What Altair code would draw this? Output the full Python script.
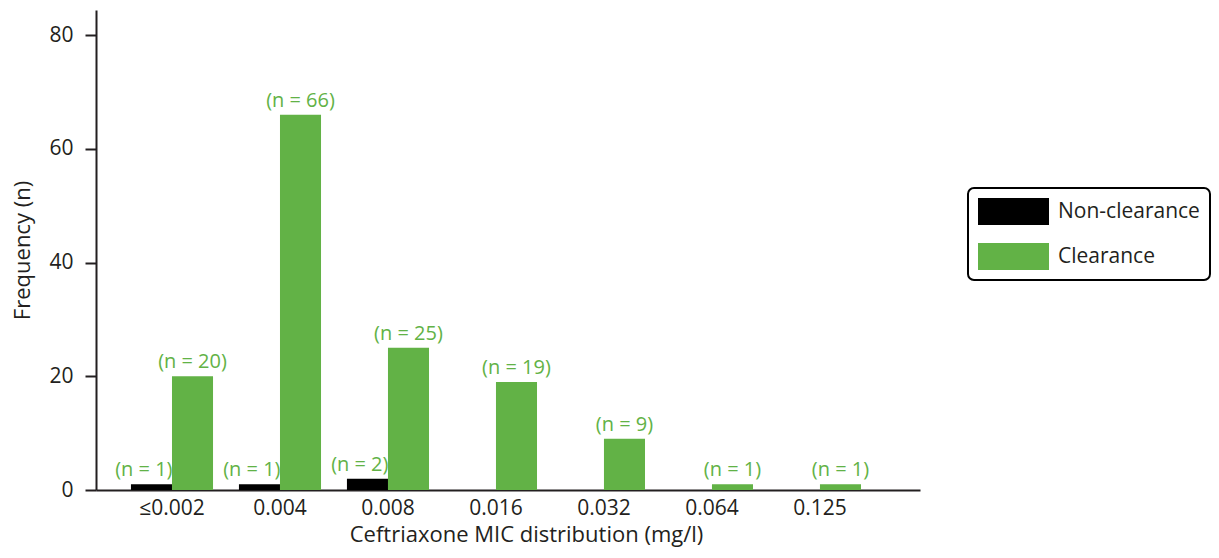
import altair as alt
import pandas as pd

categories = ["≤0.002", "0.004", "0.008", "0.016", "0.032", "0.064", "0.125"]
series_names = ["Non-clearance", "Clearance"]
non_clearance = [1, 1, 2, 0, 0, 0, 0]
clearance = [20, 66, 25, 19, 9, 1, 1]
series_colors = ["#000000", "#62b246"]

rows = []
for i, c in enumerate(categories):
    rows.append({"mic": c, "series": series_names[0], "n": non_clearance[i]})
    rows.append({"mic": c, "series": series_names[1], "n": clearance[i]})
df = pd.DataFrame(rows)
df["label"] = "(n = " + df["n"].astype(str) + ")"

FONT = "Open Sans"
TXT = "#231f20"
GREEN = "#62b246"

x = alt.X("mic:N", sort=categories,
          scale=alt.Scale(paddingInner=0.24, paddingOuter=0.435, align=0.372),
          axis=alt.Axis(title="Ceftriaxone MIC distribution (mg/l)", labelAngle=0,
                        ticks=False, labelPadding=7, titlePadding=6,
                        titleX=430, titleAlign="center"))
xo = alt.XOffset("series:N", sort=series_names, scale=alt.Scale(domain=series_names))
y = alt.Y("n:Q", scale=alt.Scale(domain=[0, 84.4], nice=False),
          axis=alt.Axis(title="Frequency (n)", values=[0, 20, 40, 60, 80],
                        grid=False, tickSize=11, labelPadding=12, titlePadding=14))
color = alt.Color("series:N", sort=series_names,
                  scale=alt.Scale(domain=series_names, range=series_colors),
                  legend=alt.Legend(title=None, orient="none", legendX=872, legendY=178,
                                    symbolType="M-1,-1H4.26V1H-1Z", symbolSize=729,
                                    symbolStrokeWidth=0, labelFontSize=21, labelFont=FONT,
                                    labelColor=TXT, labelOffset=53, rowPadding=18,
                                    padding=10, strokeColor="#000000",
                                    cornerRadius=6, fillColor="white"))

bars = alt.Chart(df).mark_bar(width=alt.RelativeBandSize(1.0)).encode(
    x=x, xOffset=xo, y=y, color=color
).transform_filter("datum.n > 0")

green_labels = alt.Chart(df).mark_text(
    baseline="alphabetic", dy=-8, fontSize=20, font=FONT, color=GREEN
).encode(x=x, xOffset=xo, y=y, text="label:N").transform_filter(
    "datum.n > 0 && datum.series == 'Clearance'")

black_labels = alt.Chart(df).mark_text(
    baseline="alphabetic", dy=-8, dx=21, align="right", fontSize=20, font=FONT, color=GREEN
).encode(x=x, xOffset=xo, y=y, text="label:N").transform_filter(
    "datum.n > 0 && datum.series == 'Non-clearance'")

chart = alt.layer(bars, green_labels, black_labels).properties(
    width=824, height=480, padding={"left": 3, "top": 2, "right": 0, "bottom": 5}
).configure_view(stroke=None).configure_axis(
    labelFont=FONT, titleFont=FONT, labelFontSize=21, titleFontSize=22,
    labelColor=TXT, titleColor=TXT, titleFontWeight="normal",
    domainColor=TXT, tickColor=TXT, domainWidth=2, tickWidth=2
).configure_legend(strokeWidth=2)

chart.save("out.html", embed_options={"renderer": "svg", "actions": False})
